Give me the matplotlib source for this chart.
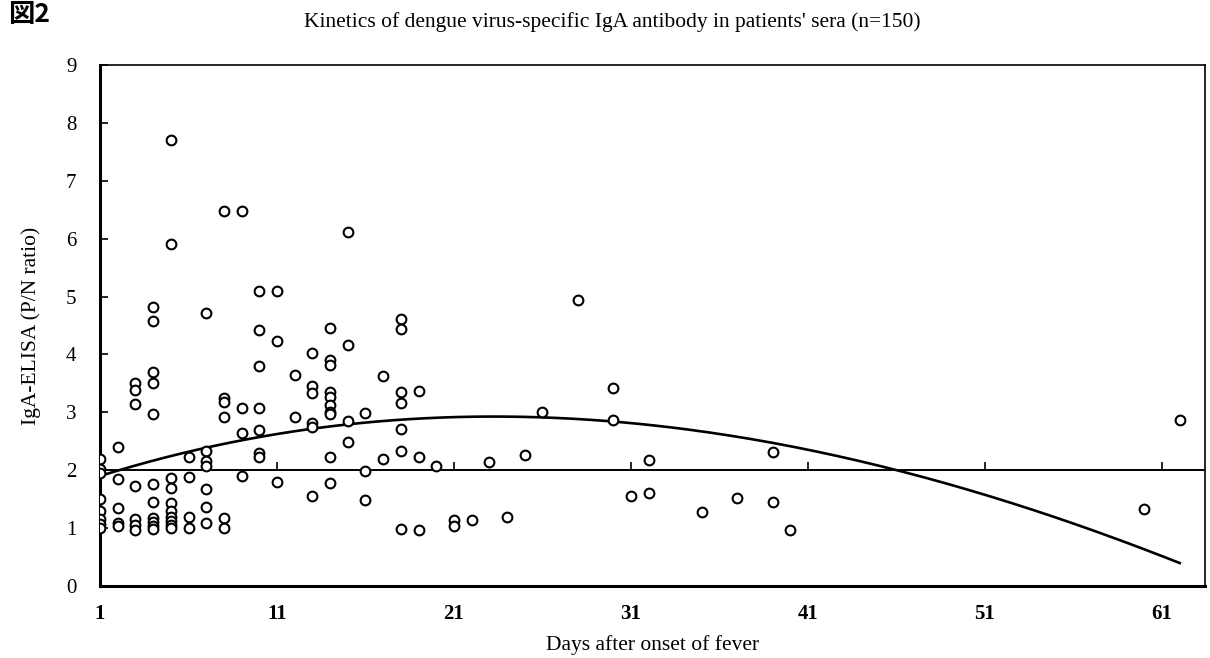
import numpy as np
import matplotlib
matplotlib.use("Agg")
import matplotlib.pyplot as plt
from matplotlib.markers import TICKUP

# days after onset of fever and IgA P/N ratio
days = [1, 1, 1, 1, 1, 1, 1, 1,
        2, 2, 2, 2, 2,
        3, 3, 3, 3, 3, 3, 3,
        4, 4, 4, 4, 4, 4, 4, 4, 4, 4, 4,
        5, 5, 5, 5, 5, 5, 5, 5, 5, 5,
        6, 6, 6, 6,
        7, 7, 7, 7, 7, 7, 7,
        8, 8, 8, 8, 8, 8,
        9, 9, 9, 9,
        10, 10, 10, 10, 10, 10, 10,
        11, 11, 11,
        12, 12,
        13, 13, 13, 13, 13, 13,
        14, 14, 14, 14, 14, 14, 14, 14, 14, 14,
        15, 15, 15, 15,
        16, 16, 16,
        17, 17,
        18, 18, 18, 18, 18, 18, 18,
        19, 19, 19,
        20, 21, 21, 22, 23, 24, 25, 26, 28, 30, 30, 31, 32, 32,
        35, 37, 39, 39, 40, 60, 62]
ratio = [2.2, 2.02, 1.95, 1.5, 1.3, 1.15, 1.07, 1.0,
         2.4, 1.85, 1.35, 1.08, 1.03,
         3.5, 3.38, 3.15, 1.72, 1.15, 1.05, 0.97,
         4.82, 4.57, 3.7, 3.5, 2.97, 1.77, 1.45, 1.17, 1.1, 1.03, 0.98,
         7.7, 5.9, 1.86, 1.7, 1.43, 1.3, 1.2, 1.13, 1.05, 1.0,
         2.23, 1.88, 1.2, 1.0,
         4.72, 2.33, 2.16, 2.08, 1.67, 1.36, 1.08,
         6.47, 3.25, 3.17, 2.92, 1.17, 1.0,
         6.47, 3.07, 2.64, 1.9,
         5.1, 4.43, 3.8, 3.07, 2.69, 2.3, 2.23,
         5.1, 4.23, 1.8,
         3.65, 2.92,
         4.02, 3.45, 3.33, 2.82, 2.75, 1.55,
         4.46, 3.9, 3.82, 3.35, 3.26, 3.13, 3.0, 2.97, 2.23, 1.78,
         6.11, 4.16, 2.85, 2.49,
         2.99, 1.99, 1.49,
         3.63, 2.2,
         4.61, 4.44, 3.35, 3.16, 2.71, 2.33, 0.98,
         3.37, 2.23, 0.97,
         2.07, 1.14, 1.04, 1.14, 2.14, 1.19, 2.26, 3.0, 4.94, 3.42, 2.87, 1.55, 2.18, 1.61,
         1.28, 1.52, 2.31, 1.45, 0.97, 1.33, 2.87]

cutoff = 2.0
# cubic trend line in (day - 1), coefficients estimated from the drawn curve
trend_coef = [6.4e-6, -0.00236, 0.0955, 1.9]
trend_range = (1, 62)

xticks = [1, 11, 21, 31, 41, 51, 61]
yticks = list(range(0, 10))

plt.rcParams['font.family'] = ['Liberation Serif', 'DejaVu Serif']

fig = plt.figure(figsize=(12.1, 6.58), dpi=100)
ax = fig.add_axes([100 / 1210, 72 / 658, 1105 / 1210, 521 / 658])

ax.plot(days, ratio, linestyle='none', marker='o', ms=7, mfc='white',
        mec='black', mew=1.5, zorder=3)

ax.axhline(cutoff, color='black', lw=1.4, zorder=2)
ax.plot(xticks, [cutoff] * len(xticks), linestyle='none', marker=TICKUP,
        ms=6, mew=1.2, color='black', zorder=2)

tx = np.linspace(trend_range[0], trend_range[1], 200)
ax.plot(tx, np.polyval(trend_coef, tx - 1), color='black', lw=1.9, zorder=2)

ax.set_xlim(1, 1 + 1105 / 17.7)
ax.set_ylim(0, 9)
ax.set_xticks(xticks)
ax.set_yticks(yticks)
ax.tick_params(axis='x', length=0, pad=13, labelsize=15)
ax.tick_params(axis='y', direction='in', length=6, width=1.2, pad=17, labelsize=15)
for lab in ax.get_xticklabels():
    lab.set_fontweight('bold')

for s in ['left', 'bottom']:
    ax.spines[s].set_linewidth(2.2)
for s in ['top', 'right']:
    ax.spines[s].set_linewidth(1.2)

ax.set_xlabel('Days after onset of fever', fontsize=15.5, labelpad=8)
ax.set_ylabel('IgA-ELISA (P/N ratio)', fontsize=15.5, labelpad=18)

fig.text(612 / 1210, 1 - 22 / 658,
         "Kinetics of dengue virus-specific IgA antibody in patients' sera (n=150)",
         ha='center', va='center', fontsize=15.5)
fig.text(8 / 1210, 1 - 1 / 658, '図2', ha='left', va='top', fontsize=19,
         fontweight='bold', family=['Noto Sans CJK JP', 'DejaVu Sans'])

fig.savefig('out.png', dpi=100)
